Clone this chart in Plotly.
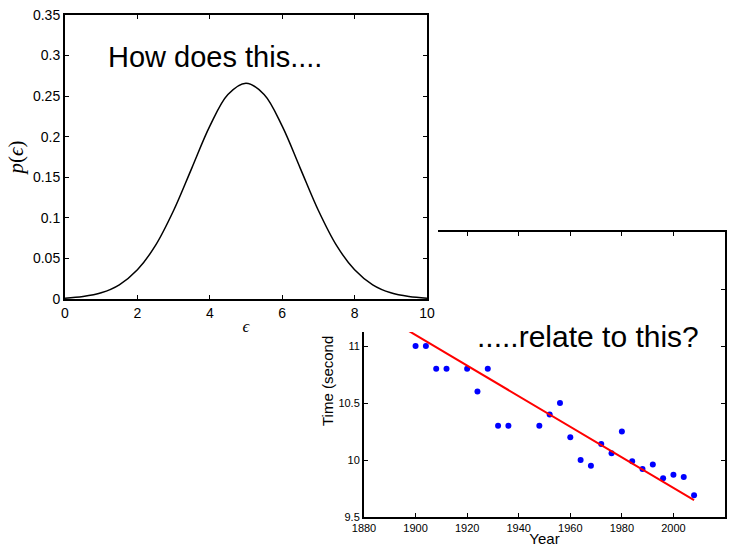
import plotly.graph_objects as go

W, H = 737, 547

# ---- Data: density curve (top-left chart) ----
eps_x = [0, 0.5, 1, 1.5, 2, 2.5, 3, 3.5, 4, 4.5, 5, 5.5, 6, 6.5, 7, 7.5, 8, 8.5, 9, 9.5, 10]
p_eps = [0.001, 0.003, 0.0076, 0.0175, 0.036, 0.066, 0.109, 0.161, 0.213, 0.252, 0.266,
         0.252, 0.213, 0.161, 0.109, 0.066, 0.036, 0.0175, 0.0076, 0.003, 0.001]

# ---- Data: Olympic 100m winning times (bottom-right chart) ----
years = [1896, 1900, 1904, 1906, 1908, 1912, 1920, 1924, 1928, 1932, 1936, 1948, 1952, 1956,
         1960, 1964, 1968, 1972, 1976, 1980, 1984, 1988, 1992, 1996, 2000, 2004, 2008]
times = [12.0, 11.0, 11.0, 11.2, 10.8, 10.8, 10.8, 10.6, 10.8, 10.3, 10.3, 10.3, 10.4, 10.5,
         10.2, 10.0, 9.95, 10.14, 10.06, 10.25, 9.99, 9.92, 9.96, 9.84, 9.87, 9.85, 9.69]
fit_years = [1896, 2008]
fit_times = [11.15, 9.648]

year_ticks = [1880, 1900, 1920, 1940, 1960, 1980, 2000, 2020]
time_ticks = [9.5, 10, 10.5, 11, 11.5, 12]
time_labels = ["9.5", "10", "10.5", "11", "11.5", "12"]
eps_ticks = [0, 2, 4, 6, 8, 10]
p_ticks = [0, 0.05, 0.1, 0.15, 0.2, 0.25, 0.3, 0.35]
p_labels = ["0", "0.05", "0.1", "0.15", "0.2", "0.25", "0.3", "0.35"]


def fx(px):
    return px / W


def fy(px):
    return 1 - px / H


SANS = "Liberation Sans, Arial, Helvetica, sans-serif"
SERIF = "Liberation Serif, DejaVu Serif, serif"

fig = go.Figure()

# Bottom-right chart (drawn first -> lowest)
fig.add_trace(go.Scatter(x=years, y=times, mode="markers",
                         marker=dict(color="#0000FF", size=6),
                         xaxis="x", yaxis="y", showlegend=False, hoverinfo="skip"))
fig.add_trace(go.Scatter(x=fit_years, y=fit_times, mode="lines",
                         line=dict(color="#FF0000", width=2),
                         xaxis="x", yaxis="y", showlegend=False, hoverinfo="skip"))

# Empty white panel of the top-left figure that hides part of the lower chart
fig.add_trace(go.Scatter(x=[None], y=[None], mode="markers",
                         xaxis="x2", yaxis="y2", showlegend=False, hoverinfo="skip"))

# Top-left chart (drawn last -> on top)
fig.add_trace(go.Scatter(x=eps_x, y=p_eps, mode="lines", line=dict(color="black", width=1.5, shape="spline"),
                         xaxis="x3", yaxis="y3", showlegend=False, hoverinfo="skip"))

axis_common = dict(showline=True, linecolor="black", linewidth=2, mirror="allticks",
                   ticks="inside", ticklen=4, tickwidth=1, tickcolor="black",
                   showgrid=False, zeroline=False, automargin=False)

fig.update_layout(
    width=W, height=H, autosize=False,
    margin=dict(l=0, r=0, t=0, b=0),
    paper_bgcolor="white", plot_bgcolor="white",
    font=dict(family=SANS, color="black"),
    xaxis=dict(domain=[fx(364), fx(725)], range=[1880, 2020], tickmode="array",
               tickvals=year_ticks, tickfont=dict(size=11, family=SANS),
               title=dict(text="Year", font=dict(size=15, family=SANS), standoff=0),
               anchor="y", **axis_common),
    yaxis=dict(domain=[fy(517), fy(232)], range=[9.5, 12], tickmode="array",
               tickvals=time_ticks, ticktext=time_labels, tickfont=dict(size=11, family=SANS),
               anchor="x", **axis_common),
    xaxis2=dict(domain=[0, fx(438)], range=[0, 1], visible=False, anchor="y2"),
    yaxis2=dict(domain=[fy(332), 1], range=[0, 1], visible=False, anchor="x2"),
    xaxis3=dict(domain=[fx(65), fx(427)], range=[0, 10], tickmode="array",
                tickvals=eps_ticks, tickfont=dict(size=14, family=SANS),
                title=dict(text="<i>\u03f5</i>", font=dict(size=17, family=SERIF), standoff=0),
                anchor="y3", **axis_common),
    yaxis3=dict(domain=[fy(299), fy(15)], range=[0, 0.35], tickmode="array",
                tickvals=p_ticks, ticktext=p_labels, tickfont=dict(size=14, family=SANS),
                title=dict(text="<i>p</i>(<i>\u03f5</i>)", font=dict(size=21, family=SERIF), standoff=4),
                anchor="x3", **axis_common),
    annotations=[
        dict(text="How does this....", x=fx(214.5), y=fy(57), xref="paper", yref="paper",
             xanchor="center", yanchor="middle", showarrow=False,
             font=dict(size=29, family=SANS, color="black")),
        dict(text=".....relate to this?", x=fx(588), y=fy(336), xref="paper", yref="paper",
             xanchor="center", yanchor="middle", showarrow=False,
             font=dict(size=30, family=SANS, color="black")),
        dict(text="Time (second", x=fx(327), y=fy(428), xref="paper", yref="paper",
             xanchor="center", yanchor="bottom", textangle=-90, showarrow=False,
             font=dict(size=15, family=SANS, color="black")),
    ],
)

fig.write_html("out.html")
